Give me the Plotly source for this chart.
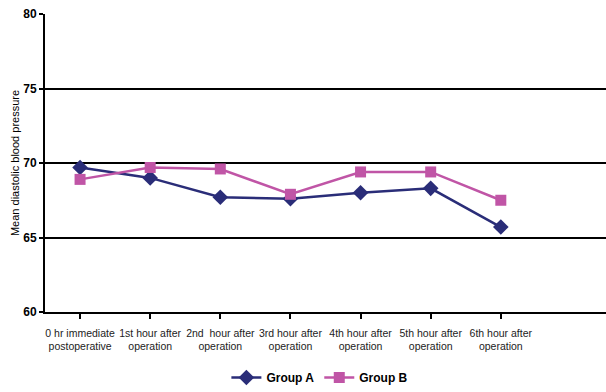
import plotly.graph_objects as go

# Time points after operation (two-line axis labels)
categories = [
    "0 hr immediate<br>postoperative",
    "1st hour after<br>operation",
    "2nd\u00a0 hour after<br>operation",
    "3rd hour after<br>operation",
    "4th hour after<br>operation",
    "5th hour after<br>operation",
    "6th hour after<br>operation",
]
group_a = [69.7, 69.0, 67.7, 67.6, 68.0, 68.3, 65.7]
group_b = [68.9, 69.7, 69.6, 67.9, 69.4, 69.4, 67.5]
y_ticks = [60, 65, 70, 75, 80]

font_family = "Liberation Sans Narrow, Arial Narrow, Liberation Sans, Arial, sans-serif"
x_pos = list(range(len(categories)))

fig = go.Figure()
fig.add_trace(go.Scatter(
    x=x_pos, y=group_a, name="<b>Group A</b>", mode="lines+markers",
    line=dict(color="#2A2D78", width=2.5),
    marker=dict(symbol="diamond", size=12, color="#2A2D78"),
))
fig.add_trace(go.Scatter(
    x=x_pos, y=group_b, name="<b>Group B</b>", mode="lines+markers",
    line=dict(color="#C055A6", width=2.5),
    marker=dict(symbol="square", size=11, color="#C055A6"),
))

fig.update_layout(
    width=606, height=392,
    margin=dict(l=45, r=0, t=14, b=78),
    paper_bgcolor="white", plot_bgcolor="white",
    font=dict(family=font_family, color="black", size=12),
    showlegend=True,
    legend=dict(orientation="h", x=0.49, xanchor="center", y=-0.22, yanchor="middle",
                font=dict(size=12, family=font_family), itemwidth=30,
                traceorder="normal"),
)
fig.update_xaxes(
    range=[-0.5, 7.5], automargin=False,
    tickmode="array", tickvals=x_pos, ticktext=categories,
    tickangle=0, ticklabelstandoff=5,
    tickson="boundaries", ticks="outside", ticklen=5, tickwidth=2, tickcolor="black",
    showline=True, linecolor="black", linewidth=2,
    showgrid=False, zeroline=False,
    tickfont=dict(size=10.5, family=font_family, color="#222"),
)
fig.update_yaxes(
    range=[60, 80], automargin=False,
    tickvals=y_ticks,
    ticktext=[f"<b>{v}</b>" for v in y_ticks],
    ticks="outside", ticklen=4, tickwidth=2, tickcolor="black",
    showline=True, linecolor="black", linewidth=2,
    showgrid=True, gridcolor="black", gridwidth=1.5,
    zeroline=False,
    tickfont=dict(size=12, family=font_family),
    title=dict(text="Mean diastolic blood pressure", font=dict(size=11, family=font_family), standoff=1),
)

fig.write_html("out.html")
